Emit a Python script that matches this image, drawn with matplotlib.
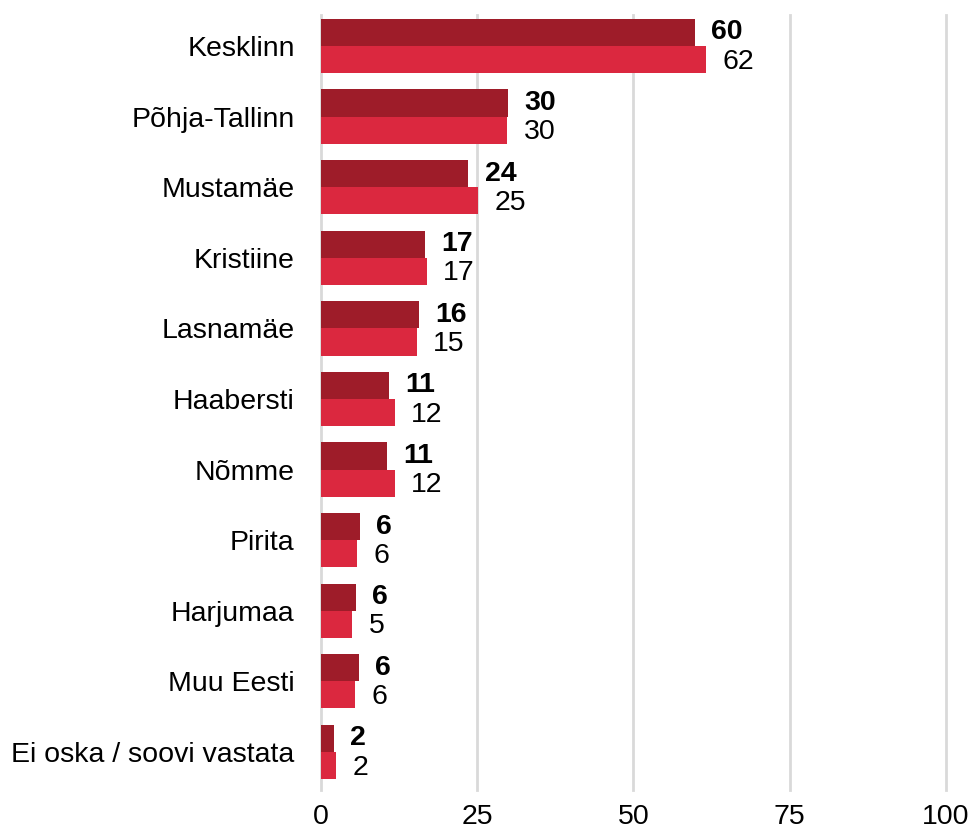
import numpy as np
import matplotlib.pyplot as plt

plt.rcParams['font.family'] = ['Liberation Sans', 'DejaVu Sans']

# Andmed
kategooriad = ['Kesklinn', 'Põhja-Tallinn', 'Mustamäe', 'Kristiine', 'Lasnamäe',
               'Haabersti', 'Nõmme', 'Pirita', 'Harjumaa', 'Muu Eesti',
               'Ei oska / soovi vastata']
tume = [59.8, 29.9, 23.6, 16.6, 15.7, 10.9, 10.6, 6.2, 5.6, 6.0, 2.0]
hele = [61.6, 29.8, 25.2, 16.9, 15.3, 11.8, 11.8, 5.8, 5.0, 5.5, 2.4]
tume_sildid = ['60', '30', '24', '17', '16', '11', '11', '6', '6', '6', '2']
hele_sildid = ['62', '30', '25', '17', '15', '12', '12', '6', '5', '6', '2']
x_tikid = [0, 25, 50, 75, 100]

fig = plt.figure(figsize=(9.74, 8.32), dpi=100)
ax = fig.add_axes([0.3296, 0.0505, 0.6414, 0.9315])

y = np.arange(len(kategooriad))
h = 0.385
ax.barh(y - h / 2, tume, height=h, color='#9E1C29', zorder=2)
ax.barh(y + h / 2, hele, height=h, color='#DB283F', zorder=2)

fs = 20.5
for i in range(len(kategooriad)):
    ax.text(tume[i] + 2.6, y[i] - h / 2, tume_sildid[i], fontsize=fs,
            fontweight='bold', va='center', ha='left')
    ax.text(hele[i] + 2.6, y[i] + h / 2 + 0.03, hele_sildid[i], fontsize=fs,
            va='center', ha='left')

ax.set_xlim(0, 100)
ax.set_ylim(10.54, -0.44)
ax.set_xticks(x_tikid)
ax.set_yticks(y)
ax.set_yticklabels(kategooriad)
ax.tick_params(axis='both', length=0, labelsize=fs)
ax.tick_params(axis='x', pad=10)
ax.tick_params(axis='y', pad=19)
ax.grid(axis='x', color='#D9D9D9', linewidth=2, zorder=0)
for g in ax.get_xgridlines():
    g.set_clip_on(False)
ax.set_axisbelow(True)
for s in ax.spines.values():
    s.set_visible(False)

fig.savefig('out.png', dpi=100)
